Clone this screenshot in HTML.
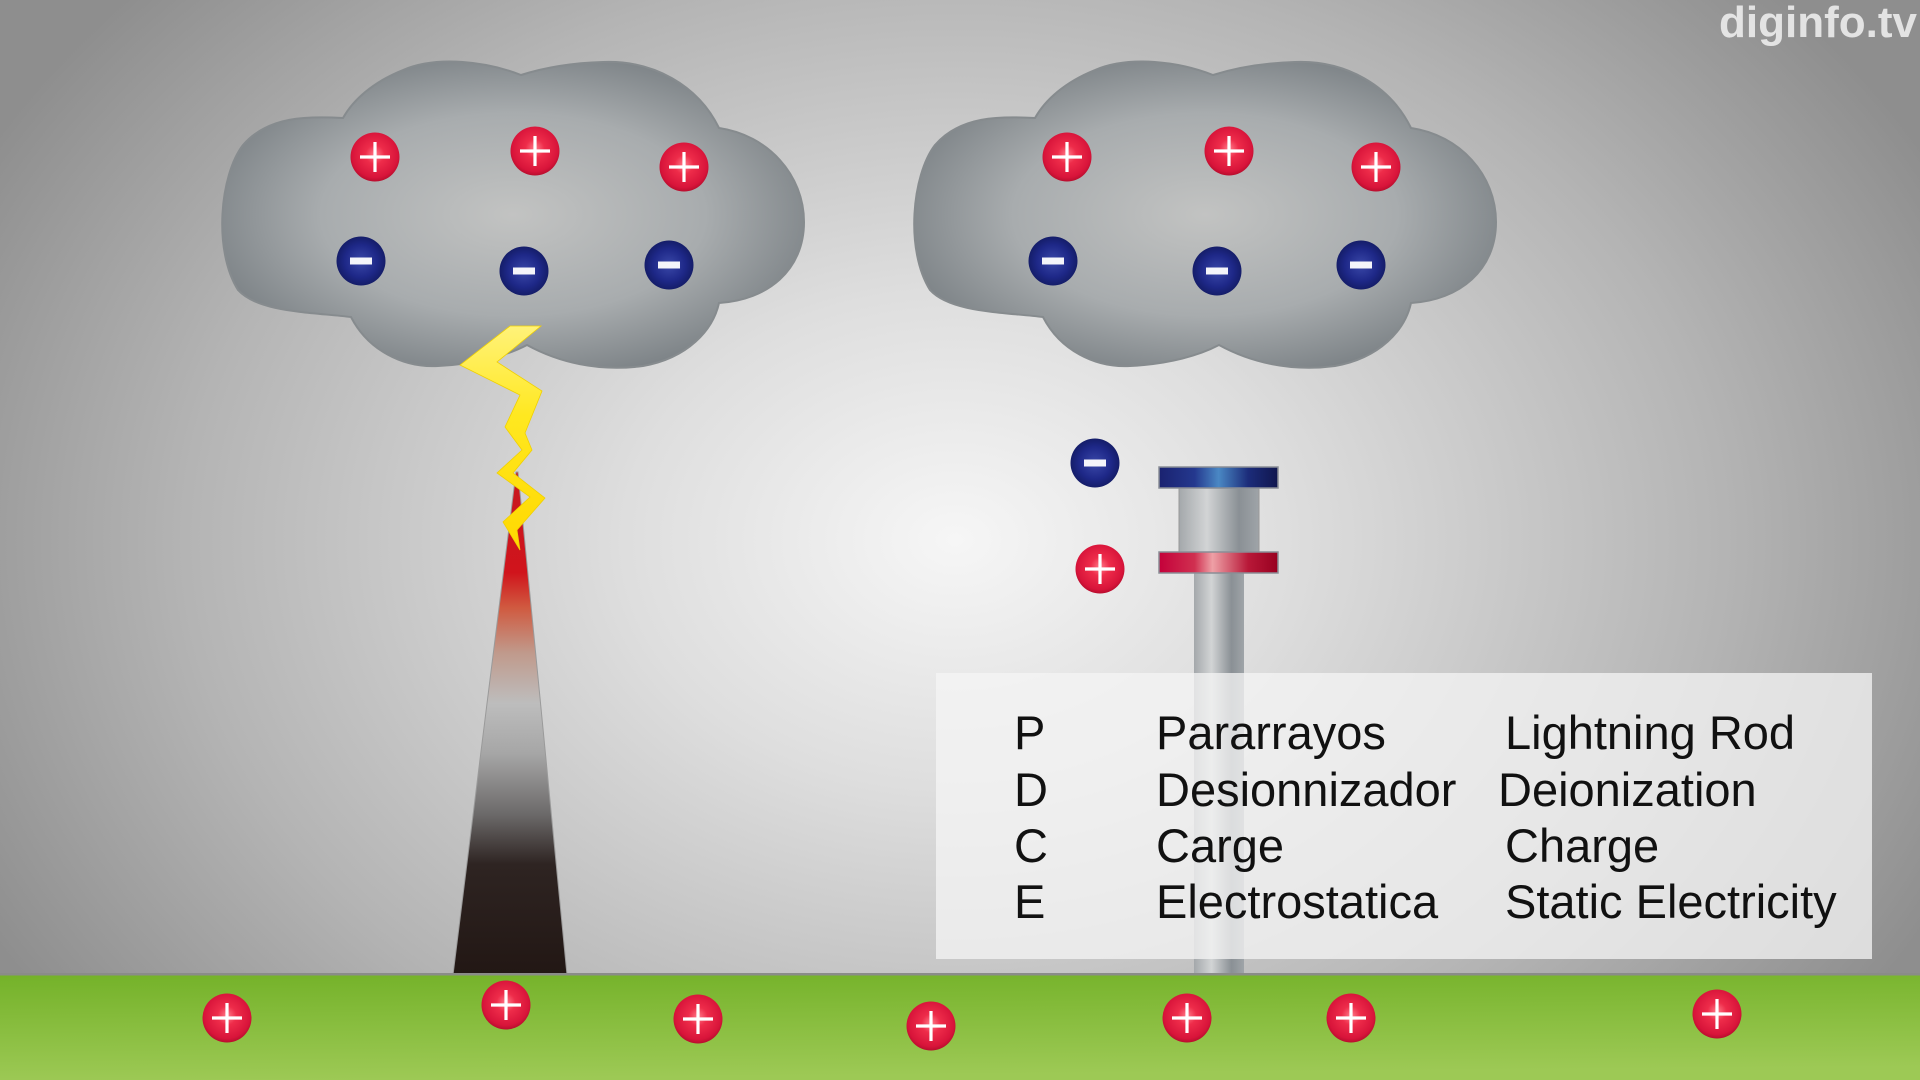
<!DOCTYPE html>
<html><head><meta charset="utf-8"><style>
html,body{margin:0;padding:0;width:1920px;height:1080px;overflow:hidden;background:#c8c8c8}
svg{display:block}
</style></head><body>
<svg width="1920" height="1080" viewBox="0 0 1920 1080" xmlns="http://www.w3.org/2000/svg">
<defs>
  <radialGradient id="bg" gradientUnits="userSpaceOnUse" cx="955" cy="540" r="1100" gradientTransform="translate(955 540) scale(1 0.75) translate(-955 -540)">
    <stop offset="0" stop-color="#f6f6f6"/>
    <stop offset="0.3" stop-color="#dedede"/>
    <stop offset="0.7" stop-color="#b4b4b4"/>
    <stop offset="1" stop-color="#8e8e8e"/>
  </radialGradient>
  <linearGradient id="ground" x1="0" y1="0" x2="0.15" y2="1">
    <stop offset="0" stop-color="#74b229"/>
    <stop offset="1" stop-color="#9dc955"/>
  </linearGradient>
  <radialGradient id="cloud" cx="0.5" cy="0.5" r="0.55">
    <stop offset="0" stop-color="#c2c3c2"/>
    <stop offset="0.6" stop-color="#a8acae"/>
    <stop offset="1" stop-color="#7c8286"/>
  </radialGradient>
  <radialGradient id="red" cx="0.5" cy="0.45" r="0.55">
    <stop offset="0" stop-color="#ff7a88"/>
    <stop offset="0.35" stop-color="#ee2c4a"/>
    <stop offset="0.85" stop-color="#d8143a"/>
    <stop offset="1" stop-color="#b80e2e"/>
  </radialGradient>
  <radialGradient id="blue" cx="0.5" cy="0.5" r="0.55">
    <stop offset="0" stop-color="#3a48a8"/>
    <stop offset="0.6" stop-color="#1e2888"/>
    <stop offset="1" stop-color="#121a60"/>
  </radialGradient>
  <linearGradient id="tower" gradientUnits="userSpaceOnUse" x1="0" y1="472" x2="0" y2="975">
    <stop offset="0" stop-color="#c81820"/>
    <stop offset="0.2" stop-color="#d0141c"/>
    <stop offset="0.27" stop-color="#d05a40"/>
    <stop offset="0.36" stop-color="#c09a8c"/>
    <stop offset="0.46" stop-color="#bdbdbd"/>
    <stop offset="0.56" stop-color="#a6a6a6"/>
    <stop offset="0.68" stop-color="#6c6a6a"/>
    <stop offset="0.78" stop-color="#2e2422"/>
    <stop offset="1" stop-color="#221714"/>
  </linearGradient>
  <linearGradient id="bolt" gradientUnits="userSpaceOnUse" x1="0" y1="326" x2="0" y2="550">
    <stop offset="0" stop-color="#fff27a"/>
    <stop offset="0.4" stop-color="#ffe820"/>
    <stop offset="1" stop-color="#ffd800"/>
  </linearGradient>
  <linearGradient id="capBlue" x1="0" y1="0" x2="1" y2="0">
    <stop offset="0" stop-color="#1a2270"/>
    <stop offset="0.3" stop-color="#24388e"/>
    <stop offset="0.5" stop-color="#4a88c4"/>
    <stop offset="0.75" stop-color="#1c2c7a"/>
    <stop offset="1" stop-color="#10164e"/>
  </linearGradient>
  <linearGradient id="capRed" x1="0" y1="0" x2="1" y2="0">
    <stop offset="0" stop-color="#c4003a"/>
    <stop offset="0.3" stop-color="#d03050"/>
    <stop offset="0.45" stop-color="#eea0a6"/>
    <stop offset="0.75" stop-color="#b81838"/>
    <stop offset="1" stop-color="#980020"/>
  </linearGradient>
  <linearGradient id="metal" x1="0" y1="0" x2="1" y2="0">
    <stop offset="0" stop-color="#a4a8ab"/>
    <stop offset="0.35" stop-color="#d2d4d5"/>
    <stop offset="0.75" stop-color="#8a9095"/>
    <stop offset="1" stop-color="#9fa4a8"/>
  </linearGradient>
  <g id="plus">
    <circle r="24.5" fill="url(#red)"/>
    <path d="M-15 0H15M0 -15V15" stroke="#ffffff" stroke-width="3.2"/>
  </g>
  <g id="minus">
    <circle r="24.5" fill="url(#blue)"/>
    <rect x="-11" y="-3.5" width="22" height="7" fill="#ffffff" opacity="0.95"/>
  </g>
  <path id="cloudShape" d="M 1035 118 C 1000 116, 960 116, 935 145 C 912 175, 905 250, 930 290 C 950 312, 1000 312, 1043 317 C 1060 350, 1095 368, 1130 366 C 1170 364, 1200 355, 1219 345 C 1250 362, 1290 372, 1335 366 C 1380 358, 1405 330, 1411 303 C 1460 300, 1496 270, 1496 222 C 1496 175, 1460 135, 1411 128 C 1390 85, 1345 60, 1295 62 C 1260 63, 1235 68, 1213 75 C 1180 62, 1130 55, 1095 70 C 1065 82, 1045 100, 1035 118 Z"/>
</defs>

<rect x="0" y="0" width="1920" height="1080" fill="url(#bg)"/>

<!-- Clouds -->
<g transform="translate(-692 0)">
  <use href="#cloudShape" fill="url(#cloud)" stroke="#868b8e" stroke-width="2"/>
</g>
<use href="#cloudShape" fill="url(#cloud)" stroke="#868b8e" stroke-width="2"/>

<!-- Cloud charges left -->
<use href="#plus" x="375" y="157"/>
<use href="#plus" x="535" y="151"/>
<use href="#plus" x="684" y="167"/>
<use href="#minus" x="361" y="261"/>
<use href="#minus" x="524" y="271"/>
<use href="#minus" x="669" y="265"/>
<!-- Cloud charges right -->
<use href="#plus" x="1067" y="157"/>
<use href="#plus" x="1229" y="151"/>
<use href="#plus" x="1376" y="167"/>
<use href="#minus" x="1053" y="261"/>
<use href="#minus" x="1217" y="271"/>
<use href="#minus" x="1361" y="265"/>

<!-- Tower -->
<polygon points="516,472 518,472 567,975 453,975" fill="url(#tower)" stroke="#9a9a9a" stroke-width="1"/>

<!-- Lightning bolt -->
<polygon points="510,326 541,326 497,362 542,391 525,433 532,450 513,473 545,498 517,530 520,550 503,522 530,497 497,473 522,450 505,427 520,395 460,365" fill="url(#bolt)" stroke="#f0d000" stroke-width="0.8" stroke-linejoin="miter"/>

<!-- Lone charges near rod -->
<use href="#minus" x="1095" y="463"/>
<use href="#plus" x="1100" y="569"/>

<!-- Rod device -->
<rect x="1194" y="573" width="50" height="402" fill="url(#metal)"/>
<rect x="1179" y="488" width="80" height="64" fill="url(#metal)" stroke="#999" stroke-width="1"/>
<rect x="1159" y="467" width="119" height="21" fill="url(#capBlue)" stroke="#8a8e96" stroke-width="1.5"/>
<rect x="1159" y="552" width="119" height="21" fill="url(#capRed)" stroke="#8a8e96" stroke-width="1.5"/>

<!-- Ground -->
<rect x="0" y="975" width="1920" height="105" fill="url(#ground)"/>
<rect x="0" y="973" width="1920" height="2.5" fill="#8a8c88"/>

<!-- Ground charges -->
<use href="#plus" x="227" y="1018"/>
<use href="#plus" x="506" y="1005"/>
<use href="#plus" x="698" y="1019"/>
<use href="#plus" x="931" y="1026"/>
<use href="#plus" x="1187" y="1018"/>
<use href="#plus" x="1351" y="1018"/>
<use href="#plus" x="1717" y="1014"/>

<!-- Legend box -->
<rect x="936" y="673" width="936" height="286" fill="#f4f4f4" fill-opacity="0.76"/>
<g font-family="'Liberation Sans', sans-serif" font-size="47" fill="#111111">
  <text x="1014" y="749">P</text>
  <text x="1014" y="806">D</text>
  <text x="1014" y="862">C</text>
  <text x="1014" y="918">E</text>
  <text x="1156" y="749">Pararrayos</text>
  <text x="1156" y="806">Desionnizador</text>
  <text x="1156" y="862">Carge</text>
  <text x="1156" y="918">Electrostatica</text>
  <text x="1505" y="749">Lightning Rod</text>
  <text x="1498" y="806">Deionization</text>
  <text x="1505" y="862">Charge</text>
  <text x="1505" y="918">Static Electricity</text>
</g>

<!-- Watermark -->
<text x="1917" y="37" text-anchor="end" font-family="'Liberation Sans', sans-serif" font-weight="bold" font-size="44" fill="#ececec" fill-opacity="0.9">diginfo.tv</text>
</svg>
</body></html>
